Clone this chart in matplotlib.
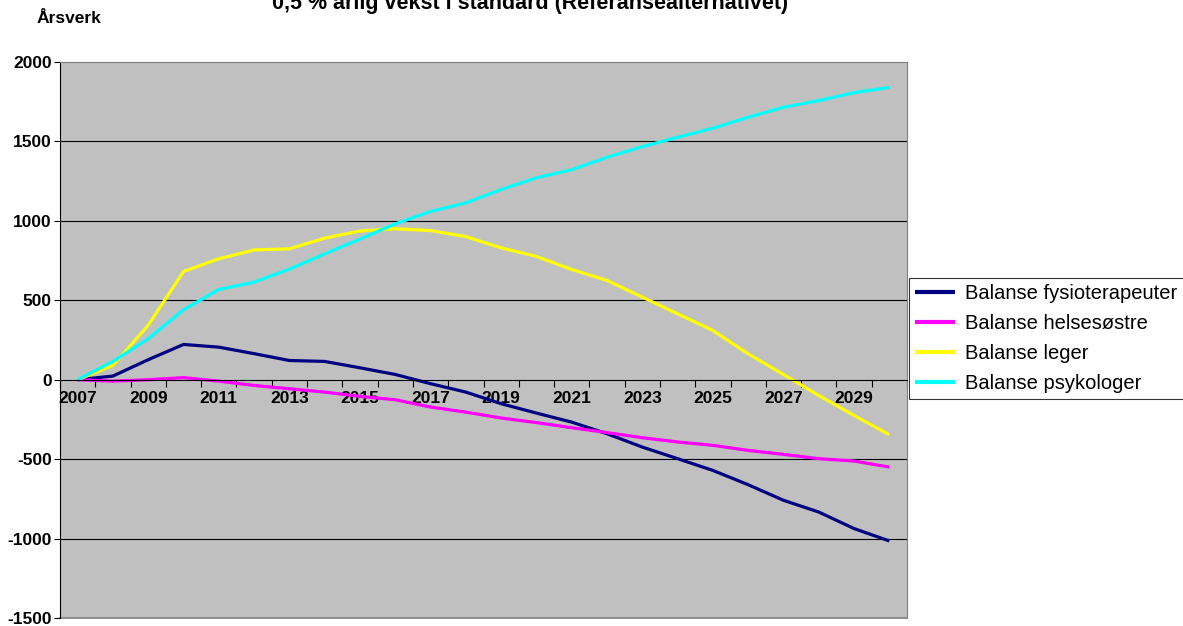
import matplotlib
matplotlib.use("Agg")
import matplotlib.pyplot as plt
import numpy as np

plt.rcParams['font.family'] = ['Liberation Sans', 'DejaVu Sans']
plt.rcParams['axes.unicode_minus'] = False

years = list(range(2007, 2031))

fysioterapeuter = [0, 23, 126, 222, 205, 164, 121, 115, 75, 33, -25, -78, -151, -210,
                   -267, -340, -424, -497, -571, -661, -759, -833, -937, -1015]
helsesostre = [0, -9, 0, 13, -9, -36, -57, -78, -105, -126, -172, -204, -241, -270,
               -302, -333, -365, -392, -413, -445, -470, -497, -512, -550]
leger = [0, 90, 343, 681, 761, 817, 824, 891, 936, 950, 939, 901, 830, 776,
         694, 625, 520, 415, 310, 163, 33, -99, -225, -346]
psykologer = [0, 115, 258, 440, 568, 614, 696, 792, 885, 981, 1059, 1113, 1197, 1271,
              1322, 1400, 1467, 1526, 1583, 1652, 1715, 1757, 1807, 1840]

series = [
    ("Balanse fysioterapeuter", fysioterapeuter, "#000080"),
    ("Balanse helsesøstre", helsesostre, "#FF00FF"),
    ("Balanse leger", leger, "#FFFF00"),
    ("Balanse psykologer", psykologer, "#00FFFF"),
]

W, H = 1183, 626
fig = plt.figure(figsize=(W / 100, H / 100), dpi=100)
fig.patch.set_facecolor("white")

# plot area in pixels: x 60..907, y 62..618
ax = fig.add_axes([60 / W, (H - 618) / H, 847 / W, 556 / H])
ax.set_facecolor("#C0C0C0")

for label, vals, col in series:
    ax.plot(years, vals, color=col, lw=2.3, label=label, solid_capstyle="butt")

ax.set_xlim(2006.5, 2030.5)
ax.set_ylim(-1500, 2000)

# horizontal gridlines
for yv in [-1000, -500, 500, 1000, 1500]:
    ax.axhline(yv, color="black", lw=0.8, zorder=0.5)

ax.set_yticks(np.arange(-1500, 2001, 500))
ax.tick_params(axis="y", direction="out", length=4, width=0.8, labelsize=12.5, pad=2)
for t in ax.get_yticklabels():
    t.set_fontweight("bold")

# x axis crosses at 0; ticks between categories, labels every second year
ax.spines["bottom"].set_position(("data", 0))
ax.spines["bottom"].set_color("black")
ax.spines["bottom"].set_linewidth(0.8)
ax.spines["left"].set_color("black")
ax.spines["left"].set_linewidth(0.8)
for s in ["top", "right"]:
    ax.spines[s].set_color("#808080")
    ax.spines[s].set_linewidth(0.8)
ax.axhline(-1500, color="#808080", lw=1.2, clip_on=False, zorder=0.5)

ax.set_xticks(np.arange(2006.5, 2031, 1))
ax.set_xticklabels([])
ax.tick_params(axis="x", which="major", direction="out", length=5, width=0.8)
ax.set_xticks(years[::2], minor=True)
ax.set_xticklabels([str(y) for y in years[::2]], minor=True)
ax.tick_params(axis="x", which="minor", length=0, labelsize=12.5, pad=8)
for t in ax.get_xticklabels(minor=True):
    t.set_fontweight("bold")

fig.text(37 / W, 1 - 23 / H, "Årsverk", fontsize=12.5, fontweight="bold",
         ha="left", va="baseline")
fig.text(530 / W, 1 - 9 / H, "0,5 % årlig vekst i standard (Referansealternativet)",
         fontsize=15.5, fontweight="bold", ha="center", va="baseline")

leg = ax.legend(loc="upper left", bbox_to_anchor=(909 / W, 1 - 278 / H),
                bbox_transform=fig.transFigure, frameon=True, fancybox=False,
                fontsize=14.5, handlelength=2.0, handletextpad=0.5,
                labelspacing=0.55, borderpad=0.3, borderaxespad=0)
leg.get_frame().set_edgecolor("black")
leg.get_frame().set_linewidth(0.8)
for ln in leg.get_lines():
    ln.set_linewidth(3)

fig.savefig("out.png", dpi=100)
